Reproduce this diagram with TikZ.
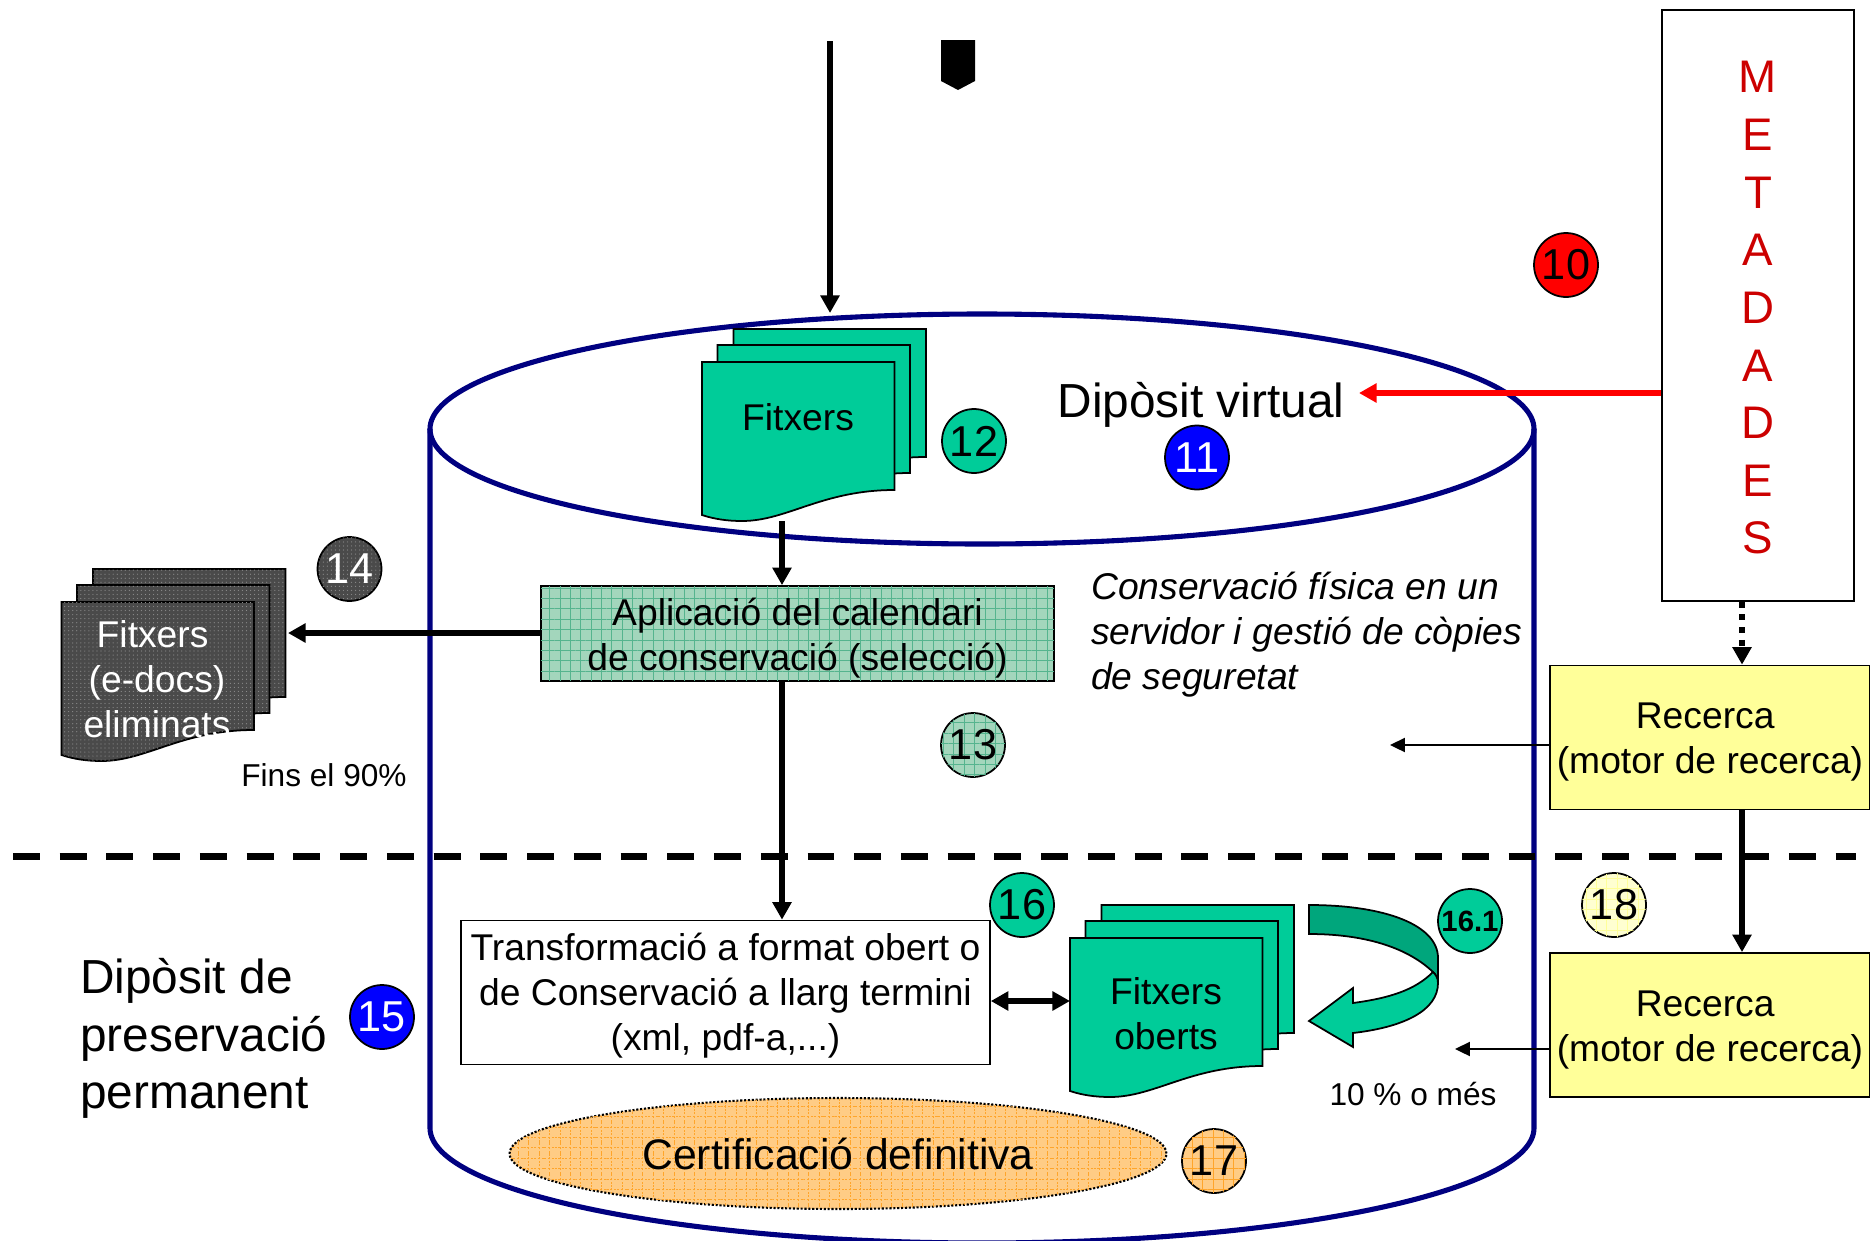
\documentclass[tikz,border=0pt]{standalone}
\usepackage{fontspec}
\setmainfont{Liberation Sans}
\usetikzlibrary{arrows.meta,patterns.meta,shapes.geometric}
\def\filesheet[#1](#2,#3){\draw[#1] (#2,#3) -- ({#2+192.5},#3) -- ({#2+192.5},{#3+128}) .. controls ({#2+120},{#3+128}) and ({#2+85},{#3+159}) .. ({#2+40},{#3+159}) .. controls ({#2+25},{#3+159}) and ({#2+12},{#3+157}) .. (#2,{#3+153}) -- cycle;}
\def\filestack[#1](#2,#3){\filesheet[#1]({#2+31.5},{#3-33})\filesheet[#1]({#2+15.5},{#3-17})\filesheet[#1](#2,#3)}
\tikzset{
	textgran/.style={font=\fontsize{27.2pt}{32.6pt}\selectfont},
	textcos/.style={font=\fontsize{21.2pt}{25.6pt}\selectfont},
	textpetit/.style={font=\fontsize{18pt}{22pt}\selectfont},
	gridfill/.style 2 args={fill=#1,
		postaction={pattern={Lines[angle=0,distance=5.9pt,line width=.3pt]},pattern color=#2},
		postaction={pattern={Lines[angle=90,distance=5.9pt,line width=.3pt]},pattern color=#2}},
	darkfill/.style={fill=darkdoc,postaction={pattern={Dots[distance=2.3pt,radius=.35pt]},pattern color=black!45}},
	fulla/.style={draw=black,line width=1pt,fill=fitxergreen},
	fullafosca/.style={draw=black,line width=1pt,darkfill},
	numero/.style={circle,draw=black,line width=1pt,minimum size=1.28cm,inner sep=0pt,font=\fontsize{24.6pt}{28pt}\selectfont},
	caixa/.style={rectangle,draw=black,line width=1pt,inner sep=0pt},
	recerca/.style={caixa,fill=recercayellow,minimum width=6.4cm,minimum height=2.88cm},
	recercatext/.style={textcos,align=center,yshift=-2.7pt},
	gruixuda/.style={line width=3.3pt,-{Triangle[length=10pt,width=10.5pt]}},
	prima/.style={line width=1.1pt,-{Triangle[length=8.5pt,width=8pt]}},
}
\definecolor{fitxergreen}{HTML}{00CC99}
\definecolor{bandgreen}{HTML}{00A67C}
\definecolor{calgreen}{HTML}{A3D6BC}
\definecolor{calline}{HTML}{55B48E}
\definecolor{certorange}{HTML}{FFCC85}
\definecolor{certline}{HTML}{FFA52B}
\definecolor{darkdoc}{HTML}{4A4A4A}
\definecolor{recercayellow}{HTML}{FFFF99}
\definecolor{tanknavy}{HTML}{000080}
\definecolor{metared}{HTML}{CC0000}

\begin{document}
\begin{tikzpicture}[x=0.02cm,y=-0.02cm]
	%%%%% START %%%%%
	\useasboundingbox (0,0) rectangle (1870,1241);

	\draw[tanknavy,line width=2.9pt] (430,429) -- (430,1128) arc (180:0:552 and 115) -- (1534,429);
	\draw[tanknavy,line width=2.9pt] (982,429) ellipse (552 and 115);

	\fill[black] (941,40) -- (975,40) -- (975,81) -- (958,90) -- (941,81) -- cycle;

	\coordinate (entrada) at (830,41);
	\coordinate (entradafi) at (830,313);
	\draw[gruixuda] (entrada) -- (entradafi);

	\filestack[fulla](702,362)
	\node (fitxers) at (798,417) [textcos] {Fitxers};
	\node[numero,fill=fitxergreen] (n12) at (974,441) {12};
	\coordinate (fitxersbase) at (782,521);

	\node[textgran] (virtual) at (1201,404.5) {Dipòsit virtual};
	\node[numero,fill=blue,text=white] (n11) at (1197,457.5) {11};
	\node[numero,fill=red] (n10) at (1566,265) {10};

	\node[caixa,gridfill={calgreen}{calline},minimum width=10.26cm,minimum height=1.9cm] (calendari) at (797.5,633.5) {};
	\node[textcos,align=center,yshift=-2.7pt] (calendaritext) at (calendari) {Aplicació del calendari\\de conservació (selecció)};
	\draw[gruixuda] (fitxersbase) -- (fitxersbase |- calendari.north);

	\filestack[fullafosca](61.5,602)
	\node[textcos,text=white,align=center] (eliminats) at (157,679) {Fitxers\hspace*{5pt}\\(e-docs)\\eliminats};
	\node[numero,darkfill,text=white] (n14) at (349.5,569) {14};
	\coordinate (eliminatsfi) at (288,633);
	\draw[gruixuda] (calendari.west |- eliminatsfi) -- (eliminatsfi);
	\node[textpetit] (fins) at (324,775) {Fins el 90\%};

	\node[font=\itshape\fontsize{21.2pt}{25.6pt}\selectfont,align=left,anchor=west] (fisica) at (1085,634.5) {Conservació física en un\\servidor i gestió de còpies\\de seguretat};
	\node[numero,gridfill={calgreen}{calline}] (n13) at (973,745) {13};

	\node[caixa,fill=white,minimum width=10.58cm,minimum height=2.88cm] (transforma) at (725.5,992.5) {};
	\node[textcos,align=center,yshift=-2pt] (transformatext) at (transforma) {Transformació a format obert o\\de Conservació a llarg termini\\(xml, pdf-a,...)};
	\draw[gruixuda] (calendari.south -| fitxersbase) -- (transforma.north -| fitxersbase);

	\node[numero,fill=fitxergreen] (n16) at (1022,905) {16};
	\filestack[fulla](1070,938)
	\node[textcos,align=center] (oberts) at (1166,1014) {Fitxers\\oberts};
	\coordinate (obertsesq) at (1070,1001);
	\draw[line width=3.3pt,{Triangle[length=10pt,width=10.5pt]}-{Triangle[length=10pt,width=10.5pt]}] (transforma.east |- obertsesq) -- (obertsesq);

	\draw[draw=black,line width=1pt,fill=bandgreen] (1309,905) .. controls (1385,905) and (1438,925) .. (1438,958) -- (1438,985) .. controls (1438,978) and (1436,975) .. (1433,972) .. controls (1410,950) and (1370,934) .. (1309,934) -- cycle;
	\draw[draw=black,line width=1pt,fill=fitxergreen] (1433,972) .. controls (1415,990) and (1390,998) .. (1353,1003) -- (1353,988) -- (1309,1021) -- (1353,1047) -- (1353,1033) .. controls (1405,1027) and (1438,1010) .. (1438,983) .. controls (1438,978) and (1436,975) .. (1433,972) -- cycle;
	\node[numero,fill=fitxergreen,font=\bfseries\fontsize{16.7pt}{20pt}\selectfont] (n161) at (1470,921) {16.1};
	\node[textpetit] (mes) at (1413,1094) {10 \% o més};

	\node[ellipse,draw=black,densely dotted,line width=1.2pt,gridfill={certorange}{certline},minimum width=13.14cm,minimum height=2.22cm,inner sep=0pt,font=\fontsize{24.3pt}{28pt}\selectfont] (certifica) at (838,1153.5) {Certificació definitiva};
	\node[numero,gridfill={certorange}{certline}] (n17) at (1214,1161) {17};

	\node[textgran,align=left,anchor=west] (permanent) at (74,1038.5) {Dipòsit de\\preservació\\permanent};
	\node[numero,fill=blue,text=white] (n15) at (382,1017) {15};

	\node[caixa,minimum width=3.84cm,minimum height=11.82cm] (metadades) at (1758,305.5) {};
	\node[align=center,yshift=-1.4pt,text=metared,font=\fontsize{26pt}{32.8pt}\selectfont] (metadadestext) at (metadades) {M\\E\\T\\A\\D\\A\\D\\E\\S};
	\coordinate (virtualfi) at (1359,393);
	\draw[line width=3pt,red,-{Triangle[length=10pt,width=10.5pt]}] (metadades.west |- virtualfi) -- (virtualfi);

	\node[recerca] (recerca) at (1710,737.5) {};
	\node[recercatext] (recercatext1) at (recerca) {Recerca\hspace*{5.5pt}\\(motor de recerca)};
	\node[recerca] (recerca2) at (1710,1025) {};
	\node[recercatext] (recercatext2) at (recerca2) {Recerca\hspace*{5.5pt}\\(motor de recerca)};
	\node[numero,gridfill={recercayellow!45}{recercayellow}] (n18) at (1614,905) {18};
	\coordinate (eix) at (1742,700);
	\draw[line width=3.3pt,dash pattern=on 3.4pt off 3.8pt,-{Triangle[length=10pt,width=10.5pt]}] (metadades.south -| eix) -- (recerca.north -| eix);
	\draw[gruixuda] (recerca.south -| eix) -- (recerca2.north -| eix);
	\coordinate (cercafi) at (1390,745);
	\coordinate (cercafi2) at (1455,1049);
	\draw[prima] (recerca.west |- cercafi) -- (cercafi);
	\draw[prima] (recerca2.west |- cercafi2) -- (cercafi2);

	\coordinate (tallesq) at (13,856.5);
	\coordinate (talldre) at (1856,856.5);
	\draw[line width=4pt,dash pattern=on 15.3pt off 11.3pt] (tallesq) -- (talldre);
	%%%%% END %%%%%
\end{tikzpicture}
\end{document}
